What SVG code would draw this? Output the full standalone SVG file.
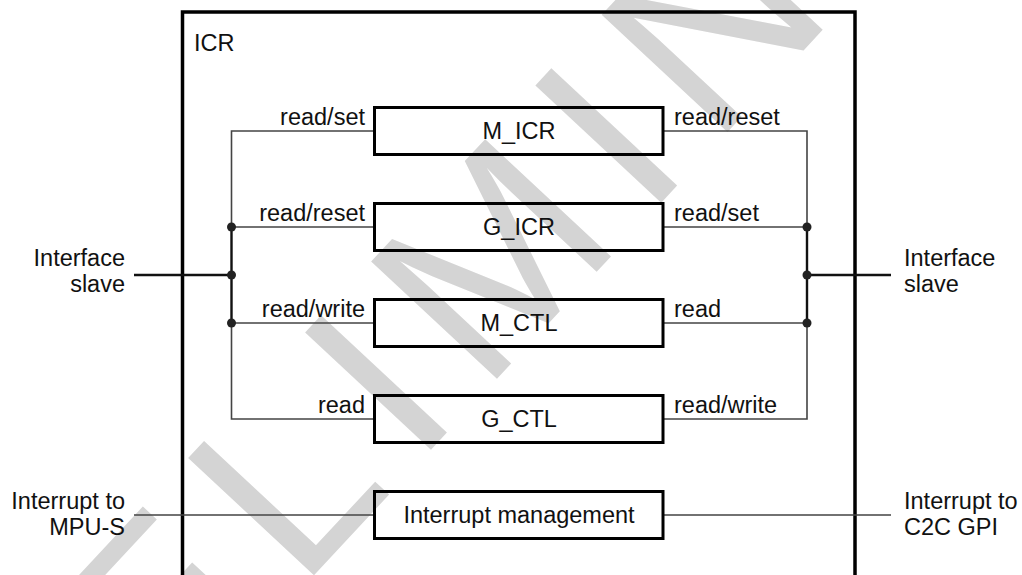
<svg xmlns="http://www.w3.org/2000/svg" width="1022" height="575" viewBox="0 0 1022 575">
<style>
text{font-family:"Liberation Sans",Arial,sans-serif;font-size:23.5px;fill:#111}
.box{fill:none;stroke:#000;stroke-width:3}
.thin{fill:none;stroke:#444;stroke-width:1.6}
.thick{fill:none;stroke:#111;stroke-width:2.4}
.dot{fill:#222}
.wm{font-size:250px;fill:#d4d4d4;letter-spacing:30px}
.mid{text-anchor:middle}
.end{text-anchor:end}
</style>
<rect width="1022" height="575" fill="#fff"/>
<text class="wm" x="-112" y="1032" transform="rotate(-47 -112 1032)">PRELIMINARY</text>
<g id="icr">
<rect x="182.5" y="12" width="672.5" height="620" class="box" style="stroke-width:3.5"/>
<text x="194" y="51">ICR</text>
</g>
<g id="connectors">
<path class="thin" d="M374.5 131H231.5V227M231.5 323V419H374.5M231.5 227H374.5M231.5 323H374.5"/>
<path class="thick" d="M231.5 227V323M134 275H231.5"/>
<path class="thin" d="M663 131H807V227M807 323V419H663M663 227H807M663 323H807"/>
<path class="thick" d="M807 227V323M807 275H891"/>
<path class="thin" d="M134 515H374.5M663 515H891"/>
<circle class="dot" cx="231.5" cy="227" r="4.5"/>
<circle class="dot" cx="231.5" cy="275" r="4.5"/>
<circle class="dot" cx="231.5" cy="323" r="4.5"/>
<circle class="dot" cx="807" cy="227" r="4.5"/>
<circle class="dot" cx="807" cy="275" r="4.5"/>
<circle class="dot" cx="807" cy="323" r="4.5"/>
<text class="end" x="365" y="125">read/set</text>
<text class="end" x="365" y="221">read/reset</text>
<text class="end" x="365" y="317">read/write</text>
<text class="end" x="365" y="413">read</text>
<text x="674" y="125">read/reset</text>
<text x="674" y="221">read/set</text>
<text x="674" y="317">read</text>
<text x="674" y="413">read/write</text>
</g>
<g id="m_icr"><rect class="box" x="374.5" y="107.5" width="288.5" height="47"/><text class="mid" x="519" y="139">M_ICR</text></g>
<g id="g_icr"><rect class="box" x="374.5" y="203.5" width="288.5" height="47"/><text class="mid" x="519" y="235">G_ICR</text></g>
<g id="m_ctl"><rect class="box" x="374.5" y="299.5" width="288.5" height="47"/><text class="mid" x="519" y="331">M_CTL</text></g>
<g id="g_ctl"><rect class="box" x="374.5" y="395.5" width="288.5" height="47"/><text class="mid" x="519" y="427">G_CTL</text></g>
<g id="int_mgmt"><rect class="box" x="374.5" y="491.5" width="288.5" height="47"/><text class="mid" x="519" y="523">Interrupt management</text></g>
<g id="if_left"><text class="end" x="125" y="266">Interface</text><text class="end" x="125" y="292">slave</text></g>
<g id="if_right"><text x="904" y="266">Interface</text><text x="904" y="292">slave</text></g>
<g id="int_left"><text class="end" x="125" y="509">Interrupt to</text><text class="end" x="125" y="535">MPU-S</text></g>
<g id="int_right"><text x="904" y="509">Interrupt to</text><text x="904" y="535">C2C GPI</text></g>
</svg>
